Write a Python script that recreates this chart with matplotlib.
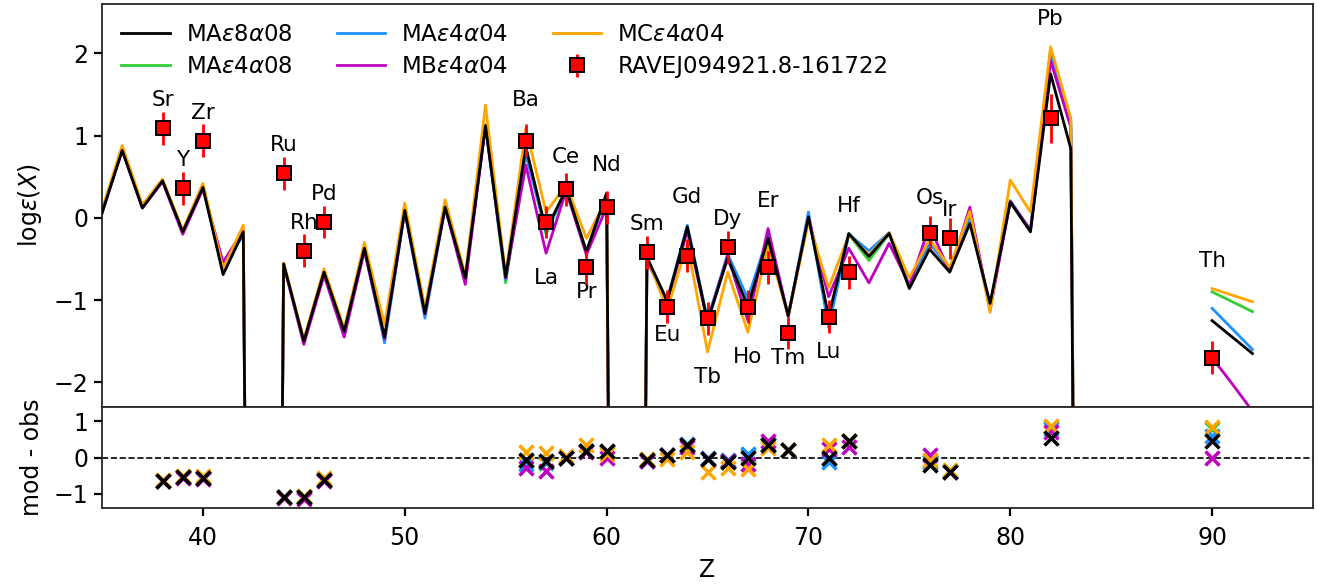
import numpy as np
import matplotlib
matplotlib.use("Agg")
import matplotlib.pyplot as plt

# ---------------------------------------------------------------------------
# Model abundance patterns, log eps(X) for Z = 35 ... 92
# (-30 marks elements the models do not produce, nan marks gaps)
# ---------------------------------------------------------------------------
Z_model = np.arange(35, 93)
NONE = -30.0
NA = np.nan

MA_e8a08 = [0.06, 0.82, 0.12, 0.45, -0.17, 0.37, -0.69, -0.17, NONE, -0.56,
            -1.50, -0.66, -1.38, -0.37, -1.45, 0.09, -1.16, 0.13, -0.73, 1.12,
            -0.72, 0.86, -0.15, 0.35, -0.41, 0.30, NONE, -0.48, -1.01, -0.11,
            -1.26, -0.49, -1.08, -0.25, -1.19, 0.01, -1.20, -0.19, -0.47, -0.19,
            -0.86, -0.38, -0.66, -0.07, -1.04, 0.19, -0.17, 1.75, 0.84, NONE,
            NA, NA, NA, NA, NA, -1.25, -1.45, -1.65]
MA_e4a08 = [0.06, 0.83, 0.13, 0.45, -0.17, 0.38, -0.66, -0.17, NONE, -0.56,
            -1.50, -0.66, -1.39, -0.37, -1.48, 0.09, -1.18, 0.14, -0.74, 1.13,
            -0.79, 0.84, -0.20, 0.35, -0.41, 0.29, NONE, -0.48, -1.01, -0.12,
            -1.25, -0.47, -1.05, -0.25, -1.19, 0.03, -1.25, -0.20, -0.52, -0.19,
            -0.84, -0.30, -0.62, -0.02, -1.07, 0.20, -0.15, 2.05, 1.19, NONE,
            NA, NA, NA, NA, NA, -0.90, -1.02, -1.14]
MA_e4a04 = [0.06, 0.83, 0.13, 0.45, -0.17, 0.38, -0.62, -0.20, NONE, -0.56,
            -1.50, -0.66, -1.40, -0.38, -1.52, 0.08, -1.22, 0.12, -0.75, 1.13,
            -0.75, 0.77, -0.17, 0.33, -0.42, 0.28, NONE, -0.52, -1.00, -0.09,
            -1.24, -0.44, -0.98, -0.22, -1.20, 0.07, -1.33, -0.20, -0.40, -0.18,
            -0.83, -0.30, -0.62, 0.00, -1.08, 0.21, -0.15, 1.99, 1.15, NONE,
            NA, NA, NA, NA, NA, -1.10, -1.35, -1.60]
MB_e4a04 = [0.06, 0.82, 0.12, 0.44, -0.20, 0.35, -0.54, -0.15, NONE, -0.57,
            -1.54, -0.70, -1.45, -0.40, -1.47, 0.09, -1.17, 0.13, -0.81, 1.12,
            -0.73, 0.64, -0.43, 0.33, -0.45, 0.13, NONE, -0.52, -1.02, -0.16,
            -1.27, -0.46, -1.25, -0.13, -1.20, 0.00, -0.96, -0.37, -0.79, -0.31,
            -0.82, -0.10, -0.66, 0.13, -1.12, 0.20, -0.15, 1.91, 1.10, NONE,
            NA, NA, NA, NA, NA, -1.70, -2.02, -2.35]
MC_e4a04 = [0.10, 0.88, 0.16, 0.47, -0.15, 0.42, -0.62, -0.09, NONE, -0.55,
            -1.48, -0.62, -1.35, -0.30, -1.30, 0.18, -1.10, 0.22, -0.70, 1.37,
            -0.70, 1.09, 0.07, 0.40, -0.25, 0.23, NONE, -0.47, -1.12, -0.31,
            -1.63, -0.66, -1.39, -0.34, -1.19, -0.05, -0.85, -0.21, -0.45, -0.18,
            -0.73, -0.26, -0.60, 0.08, -1.15, 0.46, 0.07, 2.08, 1.21, NONE,
            NA, NA, NA, NA, NA, -0.86, -0.94, -1.02]

model_labels = [r"MA$\epsilon$8$\alpha$08", r"MA$\epsilon$4$\alpha$08",
                r"MA$\epsilon$4$\alpha$04", r"MB$\epsilon$4$\alpha$04",
                r"MC$\epsilon$4$\alpha$04"]
model_values = [MA_e8a08, MA_e4a08, MA_e4a04, MB_e4a04, MC_e4a04]
model_colors = ["black", "limegreen", "dodgerblue", "m", "orange"]

# ---------------------------------------------------------------------------
# Observed abundances of RAVE J094921.8-161722
# ---------------------------------------------------------------------------
star_name = "RAVEJ094921.8-161722"
elements = ["Sr", "Y", "Zr", "Ru", "Rh", "Pd", "Ba", "La", "Ce", "Pr", "Nd",
            "Sm", "Eu", "Gd", "Tb", "Dy", "Ho", "Er", "Tm", "Lu", "Hf", "Os",
            "Ir", "Pb", "Th"]
Z_obs = [38, 39, 40, 44, 45, 46, 56, 57, 58, 59, 60, 62, 63, 64, 65, 66, 67,
         68, 69, 71, 72, 76, 77, 82, 90]
logeps_obs = [1.09, 0.36, 0.94, 0.54, -0.40, -0.05, 0.94, -0.05, 0.35, -0.60,
              0.13, -0.42, -1.08, -0.46, -1.22, -0.36, -1.08, -0.60, -1.40,
              -1.20, -0.66, -0.18, -0.25, 1.21, -1.70]
err_obs = [0.2, 0.2, 0.2, 0.2, 0.2, 0.2, 0.2, 0.2, 0.2, 0.2, 0.2, 0.2, 0.2,
           0.2, 0.2, 0.2, 0.2, 0.2, 0.2, 0.2, 0.2, 0.2, 0.25, 0.3, 0.2]

# element labels written underneath the pattern instead of above it
labels_below = {"La", "Pr", "Eu", "Tb", "Ho", "Tm", "Lu"}

# ---------------------------------------------------------------------------
plt.rcParams.update({
    "font.family": "DejaVu Sans",
    "mathtext.fontset": "dejavusans",
    "font.size": 17,
    "axes.linewidth": 1.3,
    "axes.edgecolor": "#262626",
    "xtick.major.size": 6,
    "ytick.major.size": 6,
    "xtick.major.width": 1.6,
    "ytick.major.width": 1.6,
    "xtick.labelsize": 17,
    "ytick.labelsize": 17,
})

fig = plt.figure(figsize=(13.25, 5.85), dpi=100)
W, H = 1325.0, 585.0
x0, x1 = 102, 1313
ax = fig.add_axes([x0 / W, 1 - 407 / H, (x1 - x0) / W, (407 - 4) / H])
axr = fig.add_axes([x0 / W, 1 - 508 / H, (x1 - x0) / W, (508 - 407) / H],
                   sharex=ax)

Zm = np.asarray(Z_model)
Zo = np.asarray(Z_obs)
obs = np.asarray(logeps_obs)
models = [np.asarray(v, dtype=float) for v in model_values]

# model lines (black drawn on top)
for vals, lab, col in zip(models, model_labels, model_colors):
    ax.plot(Zm, vals, color=col, lw=2.0, label=lab,
            zorder=3 if col == "black" else 2)

# observations
ax.errorbar(Zo, obs, yerr=err_obs, fmt="s", color="red", ecolor="red",
            elinewidth=2.0, capsize=0, ms=10, mfc="red", mec="black",
            mew=1.4, label=star_name, zorder=5)

# element names
idx = Zo - Zm[0]
stack = np.vstack([m[idx] for m in models] + [obs])
for k, (el, z) in enumerate(zip(elements, Zo)):
    if el in labels_below:
        y = np.nanmin(stack[:, k]) - 0.30
    else:
        y = np.nanmax(stack[:, k]) + 0.34
    ax.text(z, y, el, ha="center", va="center", fontsize=15.5)

ax.set_xlim(35, 95)
ax.set_ylim(-2.3, 2.6)
ax.set_yticks([-2, -1, 0, 1, 2])
ax.set_ylabel(r"log$\epsilon(X)$", labelpad=7)
ax.tick_params(axis="x", which="both", bottom=False, labelbottom=False)
ax.tick_params(axis="y", pad=4)

ax.legend(loc="upper left", ncol=3, frameon=False, handlelength=2.1,
          handletextpad=0.7, fontsize=16.5, columnspacing=1.95,
          labelspacing=0.38, borderaxespad=0.45)

# residuals: model minus observation
plot_order = [1, 2, 3, 4, 0]
for j in plot_order:
    diff = models[j][idx] - obs
    axr.plot(Zo, diff, "x", color=model_colors[j], ms=10, mew=2.5,
             zorder=3 if j == 0 else 2)
axr.axhline(0.0, color="black", lw=1.2, ls="--", zorder=1)
axr.set_ylim(-1.4, 1.4)
axr.set_yticks([-1, 0, 1])
axr.set_xticks([40, 50, 60, 70, 80, 90])
axr.set_xlabel("Z", labelpad=6)
axr.set_ylabel("mod - obs", labelpad=7)
axr.tick_params(axis="x", pad=7)
axr.tick_params(axis="y", pad=4)

fig.align_ylabels([ax, axr])
fig.savefig("out.png", dpi=100)
